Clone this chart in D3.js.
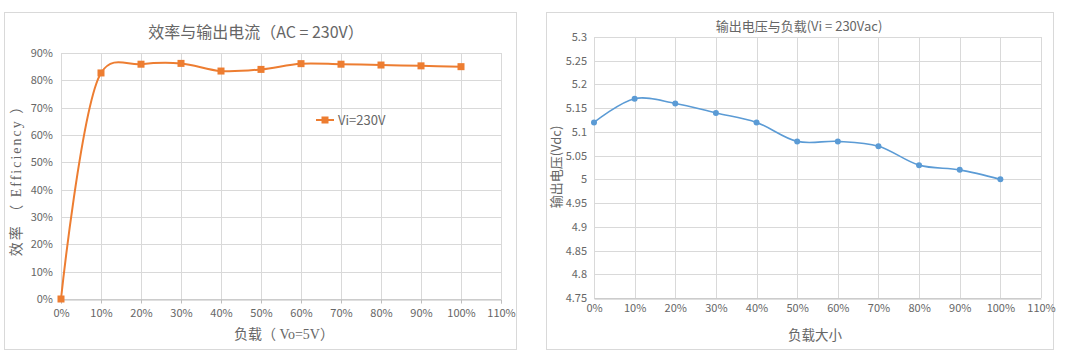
<!DOCTYPE html>
<html><head><meta charset="utf-8">
<script src="https://cdn.jsdelivr.net/npm/d3@7"></script>
<style>body{margin:0;background:#fff}svg{display:block}</style>
</head><body><svg id="c" width="1080" height="359"></svg>
<script>
const loads = [0,0.1,0.2,0.3,0.4,0.5,0.6,0.7,0.8,0.9,1.0];
const efficiency = [0,0.827,0.859,0.862,0.834,0.840,0.861,0.859,0.856,0.853,0.850];
const voltage = [5.12,5.17,5.16,5.14,5.12,5.08,5.08,5.07,5.03,5.02,5.00];
const xTicks = [0,0.1,0.2,0.3,0.4,0.5,0.6,0.7,0.8,0.9,1.0,1.1];
const effTicks = [0,0.1,0.2,0.3,0.4,0.5,0.6,0.7,0.8,0.9];
const voltTicks = [4.75,4.8,4.85,4.9,4.95,5,5.05,5.1,5.15,5.2,5.25,5.3];

const svg = d3.select("#c");
const sans = "'Noto Sans CJK SC','Noto Sans',sans-serif";
const serif = "'Liberation Serif','Noto Sans CJK SC',serif";
const tickCol = "#666666", gridCol = "#d9d9d9", titleCol = "#666666";

function panel(o){
  const g = svg.append("g");
  g.append("rect").attr("x",o.box[0]+0.5).attr("y",o.box[1]+0.5).attr("width",o.box[2]).attr("height",o.box[3])
    .attr("fill","#fff").attr("stroke","#d9d9d9");
  const x = d3.scaleLinear().domain([0,1.1]).range([o.x0,o.x1]);
  const y = d3.scaleLinear().domain(o.ydom).range([o.y0,o.y1]);
  g.append("g").selectAll("line").data(o.yTicks).join("line")
    .attr("x1",o.x0).attr("x2",o.x1).attr("y1",d=>Math.round(y(d))+0.5).attr("y2",d=>Math.round(y(d))+0.5)
    .attr("stroke",gridCol);
  g.append("g").selectAll("line").data(xTicks).join("line")
    .attr("y1",o.y0).attr("y2",o.y1).attr("x1",d=>Math.round(x(d))+0.5).attr("x2",d=>Math.round(x(d))+0.5)
    .attr("stroke",gridCol);
  const xa = g.append("g").attr("transform",`translate(0,${Math.round(o.y0)+0.5})`)
    .call(d3.axisBottom(x).tickValues(xTicks).tickFormat(d3.format(".0%")).tickSize(o.tick).tickPadding(6));
  xa.select(".domain").attr("stroke","#bfbfbf");
  xa.selectAll(".tick line").attr("stroke","#bfbfbf");
  xa.selectAll("text").attr("fill",tickCol).attr("font-family",sans).attr("font-size",11);
  const ya = g.append("g").attr("transform",`translate(${o.x0},0)`)
    .call(d3.axisLeft(y).tickValues(o.yTicks).tickFormat(o.yfmt).tickSize(0).tickPadding(o.ypad));
  ya.select(".domain").remove();
  ya.selectAll("text").attr("fill",tickCol).attr("font-family",sans).attr("font-size",11);
  const line = d3.line().x((d,i)=>x(loads[i])).y(d=>y(d)).curve(d3.curveCatmullRom.alpha(o.alpha));
  g.append("path").datum(o.data).attr("d",line).attr("fill","none").attr("stroke",o.color).attr("stroke-width",o.lw);
  return {g,x,y};
}

// Left
const L = panel({box:[4,12,512,337],x0:61,x1:501,y0:299,y1:53,ydom:[0,0.9],yTicks:effTicks,
  yfmt:d3.format(".0%"),ypad:8,data:efficiency,color:"#ED7D31",lw:2,tick:4,alpha:0.3});
L.g.append("g").selectAll("rect").data(efficiency).join("rect")
  .attr("x",(d,i)=>L.x(loads[i])-3.5).attr("y",d=>L.y(d)-3.5).attr("width",7).attr("height",7).attr("fill","#ED7D31");
L.g.append("text").attr("x",256).attr("y",38).attr("text-anchor","middle").attr("font-family",sans)
  .attr("font-size",16).attr("fill",titleCol).text("效率与输出电流（AC = 230V）");
L.g.append("text").attr("x",284).attr("y",339).attr("text-anchor","middle").attr("font-family",serif)
  .attr("font-size",14).attr("fill",titleCol).text("负载（ Vo=5V）");
L.g.append("text").attr("transform","translate(21,177) rotate(-90)").attr("text-anchor","middle").attr("font-family",serif)
  .attr("font-size",14).attr("letter-spacing",2).attr("fill",titleCol).text("效率 （ Efficiency ）");
// legend
L.g.append("line").attr("x1",316).attr("x2",334).attr("y1",120).attr("y2",120).attr("stroke","#ED7D31").attr("stroke-width",2);
L.g.append("rect").attr("x",321.5).attr("y",116.5).attr("width",7).attr("height",7).attr("fill","#ED7D31");
L.g.append("text").attr("x",338).attr("y",125).attr("font-family",sans).attr("font-size",13).attr("fill",titleCol).text("Vi=230V");

// Right
const R = panel({box:[546,12,507,337],x0:594,x1:1041,y0:298,y1:37,ydom:[4.75,5.3],yTicks:voltTicks,
  yfmt:d=>d3.format("")(+d.toFixed(2)),ypad:7,data:voltage,color:"#5B9BD5",lw:1.6,tick:0,alpha:0.5});
R.g.append("g").selectAll("circle").data(voltage).join("circle")
  .attr("cx",(d,i)=>R.x(loads[i])).attr("cy",d=>R.y(d)).attr("r",3).attr("fill","#5B9BD5");
R.g.append("text").attr("x",799).attr("y",31).attr("text-anchor","middle").attr("font-family",sans)
  .attr("font-size",13).attr("fill",titleCol).text("输出电压与负载(Vi = 230Vac)");
R.g.append("text").attr("x",815).attr("y",340).attr("text-anchor","middle").attr("font-family",sans)
  .attr("font-size",13.5).attr("fill",titleCol).text("负载大小");
R.g.append("text").attr("transform","translate(561,167) rotate(-90)").attr("text-anchor","middle").attr("font-family",sans)
  .attr("font-size",13).attr("fill",titleCol).text("输出电压(Vdc)");
</script></body></html>
